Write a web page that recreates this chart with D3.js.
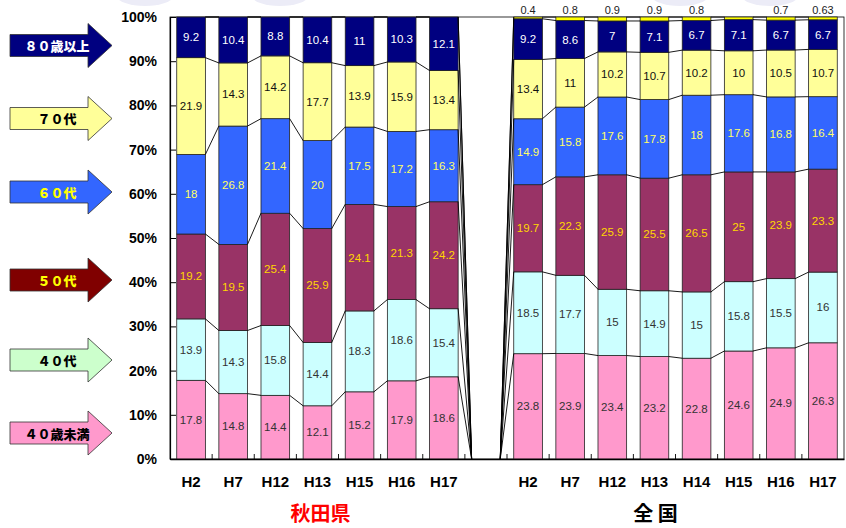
<!DOCTYPE html>
<html><head><meta charset="utf-8">
<script src="https://cdn.jsdelivr.net/npm/d3@7"></script>
<style>body{margin:0;background:#fff}svg{display:block}</style>
</head><body><svg id="c" width="846" height="528"></svg>
<script>
// ---------- data ----------
const seriesNames = ["40歳未満","40代","50代","60代","70代","80歳以上","不明"];
const legendLabels = ["４０歳未満","４０代","５０代","６０代","７０代","８０歳以上"];
const akitaYears = ["H2","H7","H12","H13","H15","H16","H17"];
const zenkokuYears = ["H2","H7","H12","H13","H14","H15","H16","H17"];
const groupLabels = ["秋田県","全 国"];
const tickValues = [0,0.1,0.2,0.3,0.4,0.5,0.6,0.7,0.8,0.9,1];

const akitaU40 = [17.8,14.8,14.4,12.1,15.2,17.9,18.6];
const akita40  = [13.9,14.3,15.8,14.4,18.3,18.6,15.4];
const akita50  = [19.2,19.5,25.4,25.9,24.1,21.3,24.2];
const akita60  = [18,26.8,21.4,20,17.5,17.2,16.3];
const akita70  = [21.9,14.3,14.2,17.7,13.9,15.9,13.4];
const akita80  = [9.2,10.4,8.8,10.4,11,10.3,12.1];
const akitaUnk = [0,0,0,0,0,0,0];

const natU40 = [23.8,23.9,23.4,23.2,22.8,24.6,24.9,26.3];
const nat40  = [18.5,17.7,15,14.9,15,15.8,15.5,16];
const nat50  = [19.7,22.3,25.9,25.5,26.5,25,23.9,23.3];
const nat60  = [14.9,15.8,17.6,17.8,18,17.6,16.8,16.4];
const nat70  = [13.4,11,10.2,10.7,10.2,10,10.5,10.7];
const nat80  = [9.2,8.6,7,7.1,6.7,7.1,6.7,6.7];
const natUnk = [0.4,0.8,0.9,0.9,0.8,0.6,0.7,0.63];
const natUnkLabels = ["0.4","0.8","0.9","0.9","0.8","","0.7","0.63"];

// ---------- styles ----------
const segColors = ["#FF99CC","#CCFFFF","#993366","#3366FF","#FFFF99","#000080","#FFFF00"];
const labelColors = ["#333","#333","#FFD700","#FFFF66","#111","#fff","#111"];
const arrowFill = ["#FF99CC","#CCFFCC","#800000","#3366FF","#FFFF99","#000080"];
const arrowText = ["#000","#000","#FFFF00","#FFFF00","#000","#fff"];
const arrowCY = [433,360,280,192,118.5,45.5];

// ---------- build table ----------
const akitaSeries = [akitaU40,akita40,akita50,akita60,akita70,akita80,akitaUnk];
const natSeries = [natU40,nat40,nat50,nat60,nat70,nat80,natUnk];
const rows = [];
akitaYears.forEach((yr,i)=>{const r={key:"A"+i,label:yr,group:"A",idx:i};seriesNames.forEach((s,k)=>r[s]=akitaSeries[k][i]);rows.push(r);});
{const r={key:"gap",label:"",group:"G",idx:0};seriesNames.forEach(s=>r[s]=0);rows.push(r);}
zenkokuYears.forEach((yr,i)=>{const r={key:"N"+i,label:yr,group:"N",idx:i};seriesNames.forEach((s,k)=>r[s]=natSeries[k][i]);rows.push(r);});

const stack = d3.stack().keys(seriesNames).offset(d3.stackOffsetExpand)(rows);

const L=170,R=844,T=17,B=459;
const x = d3.scaleBand().domain(rows.map(r=>r.key)).range([L,R]).paddingInner(0.32).paddingOuter(0.16);
const y = d3.scaleLinear().domain([0,1]).range([B,T]);
const bw = x.bandwidth();

const svg = d3.select("#c");

// faint background ellipses
[[145,0],[280,0],[680,0],[770,0]].forEach(([cx,cy])=>{
  svg.append("ellipse").attr("cx",cx).attr("cy",cy-4).attr("rx",28).attr("ry",10).attr("fill","#ececf7");
});

// frame
svg.append("rect").attr("x",L).attr("y",T).attr("width",R-L).attr("height",B-T)
  .attr("fill","none").attr("stroke","#000").attr("stroke-width",0.8);

// bars
stack.forEach((layer,k)=>{
  svg.append("g").selectAll("rect").data(layer.filter(d=>d[1]-d[0]>0)).join("rect")
    .attr("x",d=>x(d.data.key)).attr("width",bw)
    .attr("y",d=>y(d[1])).attr("height",d=>y(d[0])-y(d[1]))
    .attr("fill",segColors[k]).attr("stroke","#222").attr("stroke-width",0.8);
});

// series lines
const lg = svg.append("g").attr("stroke","#000").attr("stroke-width",0.9);
stack.forEach((layer)=>{
  for(let i=0;i<layer.length-1;i++){
    const a=layer[i], b=layer[i+1];
    lg.append("line").attr("x1",x(a.data.key)+bw).attr("y1",y(a[1]))
      .attr("x2",x(b.data.key)).attr("y2",y(b[1]));
  }
});

// value labels
stack.forEach((layer,k)=>{
  if(k===6) return;
  svg.append("g").selectAll("text").data(layer.filter(d=>d[1]-d[0]>0)).join("text")
    .attr("x",d=>x(d.data.key)+bw/2).attr("y",d=>(y(d[0])+y(d[1]))/2)
    .attr("text-anchor","middle").attr("dominant-baseline","central")
    .attr("font-family","Liberation Sans, Arial, sans-serif").attr("font-size",11.5)
    .attr("fill",labelColors[k])
    .text(d=>d.data[seriesNames[k]]);
});
// top (unknown) labels for national
svg.append("g").selectAll("text").data(stack[6].filter(d=>d.data.group==="N")).join("text")
  .attr("x",d=>x(d.data.key)+bw/2).attr("y",10)
  .attr("text-anchor","middle").attr("dominant-baseline","central")
  .attr("font-family","Liberation Sans, Arial, sans-serif").attr("font-size",11)
  .attr("fill","#222")
  .text(d=>natUnkLabels[d.data.idx]);

// y axis
const ya = svg.append("g").attr("transform",`translate(${L},0)`)
  .call(d3.axisLeft(y).tickValues(tickValues).tickFormat(d3.format(".0%")).tickSizeInner(-6).tickSizeOuter(0).tickPadding(13));
ya.select(".domain").attr("stroke","#000").attr("stroke-width",1.2);
ya.selectAll(".tick line").attr("stroke","#000");
ya.selectAll("text").attr("font-family","Liberation Sans, Arial, sans-serif").attr("font-size",14).attr("font-weight","bold").attr("fill","#000");

// x axis
const xa = svg.append("g").attr("transform",`translate(0,${B})`)
  .call(d3.axisBottom(x).tickFormat(k=>rows.find(r=>r.key===k).label).tickSize(0).tickPadding(17));
xa.select(".domain").attr("stroke","#000").attr("stroke-width",1.5);
xa.selectAll("text").attr("font-family","Liberation Sans, Arial, sans-serif").attr("font-size",15).attr("font-weight","bold").attr("fill","#000");
// boundary ticks (inward)
const step = x.step();
svg.append("g").selectAll("line").data(rows.slice(1)).join("line")
  .attr("x1",d=>x(d.key)-(step-bw)/2).attr("x2",d=>x(d.key)-(step-bw)/2)
  .attr("y1",B).attr("y2",B-5).attr("stroke","#000").attr("stroke-width",0.9);

// group labels
const aMid = (x(rows[0].key)+x(rows[akitaYears.length-1].key)+bw)/2;
const nFirst = rows[akitaYears.length+1].key, nLast = rows[rows.length-1].key;
const nMid = (x(nFirst)+x(nLast)+bw)/2;
svg.append("text").attr("x",aMid+3).attr("y",512).attr("text-anchor","middle").attr("dominant-baseline","central")
  .attr("font-family","Noto Sans CJK JP, sans-serif").attr("font-size",20).attr("font-weight","bold").attr("fill","#FF0000").text(groupLabels[0]);
svg.append("text").attr("x",nMid-20).attr("y",512).attr("text-anchor","middle").attr("dominant-baseline","central")
  .attr("font-family","Noto Sans CJK JP, sans-serif").attr("font-size",20).attr("font-weight","bold").attr("fill","#000").text(groupLabels[1]);

// arrow legend
const ag = svg.append("g");
legendLabels.forEach((lab,i)=>{
  const cy = arrowCY[i];
  const p = `M10,${cy-11}H88V${cy-22}L112,${cy}L88,${cy+22}V${cy+11}H10Z`;
  ag.append("path").attr("d",p).attr("fill",arrowFill[i]).attr("stroke","#333").attr("stroke-width",0.8);
  ag.append("text").attr("x",57).attr("y",cy).attr("text-anchor","middle").attr("dominant-baseline","central")
    .attr("font-family","Noto Sans CJK JP, sans-serif").attr("font-size",13).attr("font-weight","900")
    .attr("fill",arrowText[i]).text(lab);
});
</script></body></html>
